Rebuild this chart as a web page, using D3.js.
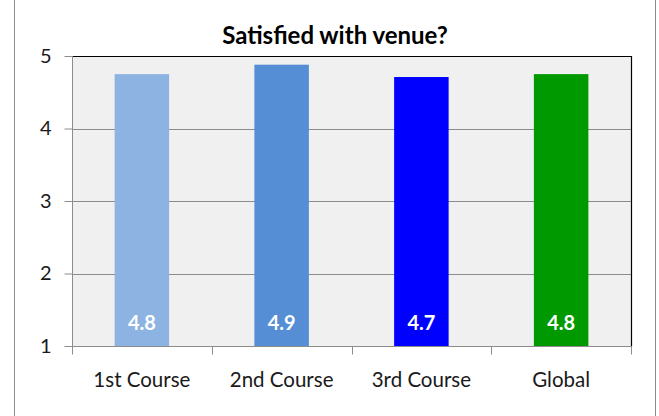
<!DOCTYPE html>
<html><head><meta charset="utf-8">
<script src="https://cdn.jsdelivr.net/npm/d3@7"></script>
<style>body{margin:0;background:#fff}svg{display:block}</style>
</head><body>
<svg id="c" width="659" height="416"></svg>
<script>
const categories = ["1st Course", "2nd Course", "3rd Course", "Global"];
const values = [4.75, 4.88, 4.71, 4.75];
const valueLabels = ["4.8", "4.9", "4.7", "4.8"];
const barColors = ["#8db3e2", "#558ed5", "#0000ff", "#009900"];
const yTicks = [1, 2, 3, 4, 5];
const title = "Satisfied with venue?";

const svg = d3.select("#c");
const font = "Lato, 'Open Sans', sans-serif";
const L = 72, R = 631, T = 56, B = 346;

// outer frame
svg.append("line").attr("x1",14.5).attr("x2",14.5).attr("y1",0).attr("y2",416).attr("stroke","#8c8c8c");
svg.append("line").attr("x1",655.5).attr("x2",655.5).attr("y1",0).attr("y2",416).attr("stroke","#8c8c8c");

const x = d3.scaleBand().domain(categories).range([L, R]).paddingInner(0.61).paddingOuter(0.305);
const xb = d3.scaleBand().domain(categories).range([L, R]);
const y = d3.scaleLinear().domain([1, 5]).range([B, T]);

svg.append("rect").attr("x",L).attr("y",T).attr("width",R-L).attr("height",B-T).attr("fill","#f0f0f0");

// gridlines
svg.append("g").selectAll("line").data(yTicks.filter(d=>d>1&&d<5)).join("line")
  .attr("x1",L).attr("x2",R).attr("y1",d=>Math.round(y(d))+0.5).attr("y2",d=>Math.round(y(d))+0.5)
  .attr("stroke","#8c8c8c").attr("stroke-width",1);

// plot border top/right
svg.append("path").attr("d",`M${L},${T+0.5}H${R+0.5}V${B}`).attr("fill","none").attr("stroke","#000").attr("stroke-width",1.2);

// bars
svg.append("g").selectAll("rect").data(categories).join("rect")
  .attr("x",d=>x(d)).attr("width",x.bandwidth())
  .attr("y",(d,i)=>y(values[i])).attr("height",(d,i)=>y(1)-y(values[i]))
  .attr("fill",(d,i)=>barColors[i]);

// value labels
svg.append("g").selectAll("text").data(categories).join("text")
  .attr("x",d=>x(d)+x.bandwidth()/2).attr("y",B-16)
  .attr("text-anchor","middle").attr("fill","#fff").attr("font-family",font)
  .attr("font-weight","bold").attr("font-size",20).text((d,i)=>valueLabels[i]);

// y axis
const yAxis = d3.axisLeft(y).tickValues(yTicks).tickSize(8).tickPadding(13).tickFormat(d3.format("d"));
const gy = svg.append("g").attr("transform",`translate(${L+0.5},0)`).call(yAxis);
gy.select(".domain").attr("stroke","#8c8c8c").attr("d",`M0,${T}V${B}`);
gy.selectAll(".tick line").attr("stroke","#8c8c8c");
gy.selectAll(".tick text").attr("font-family",font).attr("font-size",20).attr("fill","#1a1a1a");

// x axis
const gx = svg.append("g").attr("transform",`translate(0,${B+0.5})`);
gx.append("line").attr("x1",L).attr("x2",R+1).attr("stroke","#8c8c8c");
const bounds = categories.map(c=>xb(c)).concat([R]);
gx.selectAll(".xt").data(bounds).join("line").attr("class","xt")
  .attr("x1",d=>Math.round(d)+0.5).attr("x2",d=>Math.round(d)+0.5).attr("y1",0).attr("y2",8).attr("stroke","#8c8c8c");
gx.selectAll("text").data(categories).join("text")
  .attr("x",d=>xb(d)+xb.bandwidth()/2).attr("y",40.5)
  .attr("text-anchor","middle").attr("font-family",font).attr("font-size",20.5).attr("fill","#1a1a1a").text(d=>d);

// title
svg.append("text").attr("x",335).attr("y",44).attr("text-anchor","middle")
  .attr("font-family",font).attr("font-weight","bold").attr("font-size",24).attr("fill","#000").text(title);
</script>
</body></html>
